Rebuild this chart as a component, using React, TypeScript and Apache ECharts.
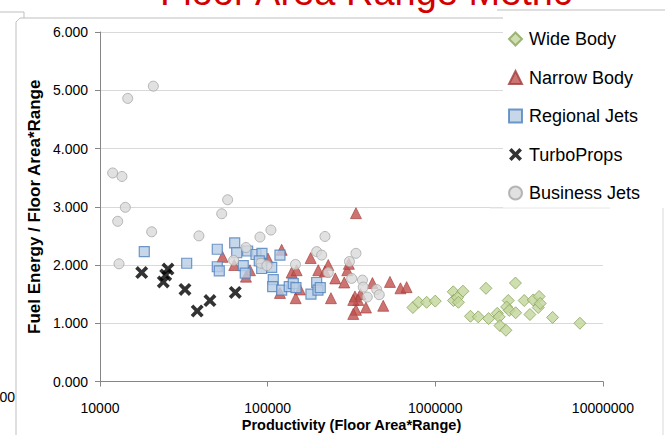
import React, { useEffect, useRef } from "react";
import * as echarts from "echarts";

// Productivity (floor area * range) vs fuel energy per floor area * range
const wideBody: [number, number][] = [
  [735000, 1.27], [793000, 1.36], [887000, 1.36], [999000, 1.38], [1279000, 1.54],
  [1461000, 1.55], [1282000, 1.39], [1355000, 1.44], [1373000, 1.36], [2004000, 1.6],
  [3004000, 1.69], [1620000, 1.12], [1803000, 1.11], [2079000, 1.08], [2340000, 1.17],
  [2401000, 1.11], [2428000, 0.96], [2636000, 0.88], [2721000, 1.39], [2662000, 1.28],
  [2759000, 1.22], [3012000, 1.18], [3389000, 1.39], [3665000, 1.15], [3835000, 1.4],
  [4159000, 1.46], [4108000, 1.27], [4222000, 1.34], [5005000, 1.1], [7283000, 1.0],
];

const narrowBody: [number, number][] = [
  [53800, 2.14], [63200, 2.0], [78400, 1.91], [74200, 1.8], [100400, 2.11],
  [121200, 2.26], [118400, 1.52], [139000, 1.87], [148900, 1.91], [155800, 1.58],
  [146900, 1.43], [180500, 2.12], [200300, 1.91], [229800, 2.0], [253000, 1.77],
  [286300, 1.7], [238500, 1.43], [298400, 1.91], [305000, 2.02], [336100, 2.89],
  [421600, 1.69], [536200, 1.71], [619400, 1.6], [674300, 1.62], [489000, 1.3],
  [385700, 1.27], [331600, 1.46], [357600, 1.5], [347000, 1.4], [323900, 1.4],
  [336100, 1.23], [323900, 1.16], [219600, 1.89],
];

const regionalJets: [number, number][] = [
  [18370, 2.23], [32880, 2.03], [50060, 2.27], [63570, 2.38], [65340, 2.21],
  [50060, 1.97], [51450, 1.9], [71520, 1.99], [73500, 1.86], [75970, 2.24],
  [85170, 2.18], [92480, 2.2], [89120, 2.07], [92100, 1.94], [105700, 1.96],
  [108000, 1.75], [107100, 1.63], [121200, 1.57], [118400, 2.17], [134500, 1.63],
  [142100, 1.68], [147500, 1.61], [181200, 1.5], [196000, 1.7], [199500, 1.57],
  [205900, 1.61],
];

const turboProps: [number, number][] = [
  [17730, 1.87], [25440, 1.93], [24650, 1.83], [23850, 1.71],
  [32130, 1.58], [38000, 1.21], [45260, 1.39], [64100, 1.53],
];

const businessJets: [number, number][] = [
  [12750, 2.75], [14160, 2.99], [20330, 2.57], [12980, 2.02], [38900, 2.5],
  [53200, 2.88], [57700, 3.12], [62700, 2.08], [74250, 2.3], [89950, 2.48],
  [104600, 2.6], [91200, 2.03], [99000, 1.99], [11900, 3.58], [13520, 3.52],
  [20800, 5.07], [14630, 4.86], [219600, 2.49], [196000, 2.23], [209900, 2.17],
  [336100, 2.2], [307400, 2.06], [146500, 2.01], [229800, 1.87], [316900, 1.77],
  [367600, 1.74], [371600, 1.62], [446700, 1.58], [463000, 1.49], [392600, 1.45],
];

const seriesNames = ["Wide Body", "Narrow Body", "Regional Jets", "TurboProps", "Business Jets"];
const xTicks = [10000, 100000, 1000000, 10000000];
const yTicks = [0, 1, 2, 3, 4, 5, 6];

// bold "X" marker drawn as a filled outline
const crossPath =
  "path://M0,2L2,0L5,3L8,0L10,2L7,5L10,8L8,10L5,7L2,10L0,8L3,5Z";

const FONT = "'Liberation Sans', Arial, sans-serif";

export default function App() {
  const ref = useRef<HTMLDivElement>(null);

  useEffect(() => {
    if (!ref.current) return;
    const chart = echarts.init(ref.current, undefined, { renderer: "svg" });
    const frame = "#bfbfbf";

    chart.setOption({
      animation: false,
      backgroundColor: "#ffffff",
      textStyle: { fontFamily: FONT },
      grid: {
        left: 100,
        right: 62,
        top: 32,
        bottom: 53.5,
        containLabel: false,
        outerBoundsMode: "none",
      },
      legend: {
        orient: "vertical",
        left: 503,
        top: 25,
        itemWidth: 13,
        itemHeight: 13,
        itemGap: 20.5,
        z: 20,
        textStyle: { fontSize: 18, color: "#000", fontFamily: FONT, padding: [0, 0, 0, 2] },
        data: seriesNames,
      },
      xAxis: {
        type: "log",
        logBase: 10,
        min: xTicks[0],
        max: xTicks[xTicks.length - 1],
        name: "Productivity (Floor Area*Range)",
        nameLocation: "middle",
        nameGap: 36,
        nameMoveOverlap: false,
        nameTextStyle: { fontSize: 14.5, fontWeight: "bold", color: "#000", fontFamily: FONT },
        axisLine: { lineStyle: { color: "#868686", width: 1 } },
        axisTick: { show: true, length: 5, lineStyle: { color: "#868686" } },
        minorTick: { show: false },
        splitLine: { show: false },
        axisLabel: {
          margin: 19,
          fontSize: 14,
          color: "#000",
          fontFamily: FONT,
          formatter: (v: number) => String(Math.round(v)),
        },
      },
      yAxis: {
        type: "value",
        min: yTicks[0],
        max: yTicks[yTicks.length - 1],
        interval: 1,
        name: "Fuel Energy / Floor Area*Range",
        nameLocation: "middle",
        nameGap: 57,
        nameMoveOverlap: false,
        nameTextStyle: { fontSize: 17, fontWeight: "bold", color: "#000", fontFamily: FONT },
        axisLine: { show: true, lineStyle: { color: "#868686", width: 1 } },
        axisTick: { show: true, length: 5, lineStyle: { color: "#868686" } },
        splitLine: { show: true, lineStyle: { color: "#d9d9d9", width: 1 } },
        axisLabel: {
          margin: 12,
          fontSize: 14,
          color: "#000",
          fontFamily: FONT,
          formatter: (v: number) => v.toFixed(3),
        },
      },
      series: [
        {
          name: seriesNames[0],
          type: "scatter",
          data: wideBody,
          symbol: "diamond",
          symbolSize: 12,
          itemStyle: { color: "#c3d69b", borderColor: "#8ba45c", borderWidth: 1 },
        },
        {
          name: seriesNames[1],
          type: "scatter",
          data: narrowBody,
          symbol: "triangle",
          symbolSize: 11,
          itemStyle: { color: "#c0504d", borderColor: "#a03c39", borderWidth: 0.8 },
        },
        {
          name: seriesNames[2],
          type: "scatter",
          data: regionalJets,
          symbol: "rect",
          symbolSize: 10,
          itemStyle: { color: "#b9cde5", borderColor: "#4f81bd", borderWidth: 1.2 },
        },
        {
          name: seriesNames[3],
          type: "scatter",
          data: turboProps,
          symbol: crossPath,
          symbolSize: 13,
          itemStyle: { color: "#000000" },
        },
        {
          name: seriesNames[4],
          type: "scatter",
          data: businessJets,
          symbol: "circle",
          symbolSize: 10,
          itemStyle: { color: "#d9d9d9", borderColor: "#a6a6a6", borderWidth: 1 },
        },
      ],
      graphic: [
        // neighbouring chart's frame corner and cut-off tick label
        { type: "line", silent: true, shape: { x1: 0, y1: 12, x2: 24, y2: 12 }, style: { stroke: frame, lineWidth: 1 } },
        { type: "line", silent: true, shape: { x1: 24, y1: 12, x2: 24, y2: 18 }, style: { stroke: frame, lineWidth: 1 } },
        {
          type: "text",
          silent: true,
          x: 15,
          y: 397,
          style: { text: "0.000", fontSize: 14, fontFamily: FONT, fill: "#000", align: "right", verticalAlign: "middle" },
        },
        // chart area frame
        {
          type: "polyline",
          silent: true,
          shape: { points: [[16, 436], [16, 22], [20, 18], [503, 18]] },
          style: { stroke: frame, lineWidth: 1, fill: "none" },
        },
        { type: "line", silent: true, shape: { x1: 663, y1: 208, x2: 663, y2: 436 }, style: { stroke: "#d9d9d9", lineWidth: 1 } },
        // legend panel
        {
          type: "rect",
          silent: true,
          z: 10,
          shape: { x: 503, y: 10, width: 162, height: 198 },
          style: { fill: "#ffffff", stroke: "none" },
        },
        { type: "line", silent: true, z: 11, shape: { x1: 497, y1: 10, x2: 665, y2: 10 }, style: { stroke: frame, lineWidth: 1 } },
        { type: "line", silent: true, z: 11, shape: { x1: 490, y1: 208, x2: 610, y2: 208 }, style: { stroke: "#e6e6e6", lineWidth: 1 } },
        // title, clipped by the top of the page
        {
          type: "text",
          silent: true,
          x: 366,
          y: -8.5,
          style: {
            text: "Floor Area Range Metric",
            fontSize: 38,
            fontFamily: FONT,
            fill: "#d40000",
            align: "center",
            verticalAlign: "middle",
          },
        },
      ],
    });

    return () => chart.dispose();
  }, []);

  return (
    <div
      ref={ref}
      style={{ position: "fixed", left: 0, top: 0, width: 665, height: 435 }}
    />
  );
}
